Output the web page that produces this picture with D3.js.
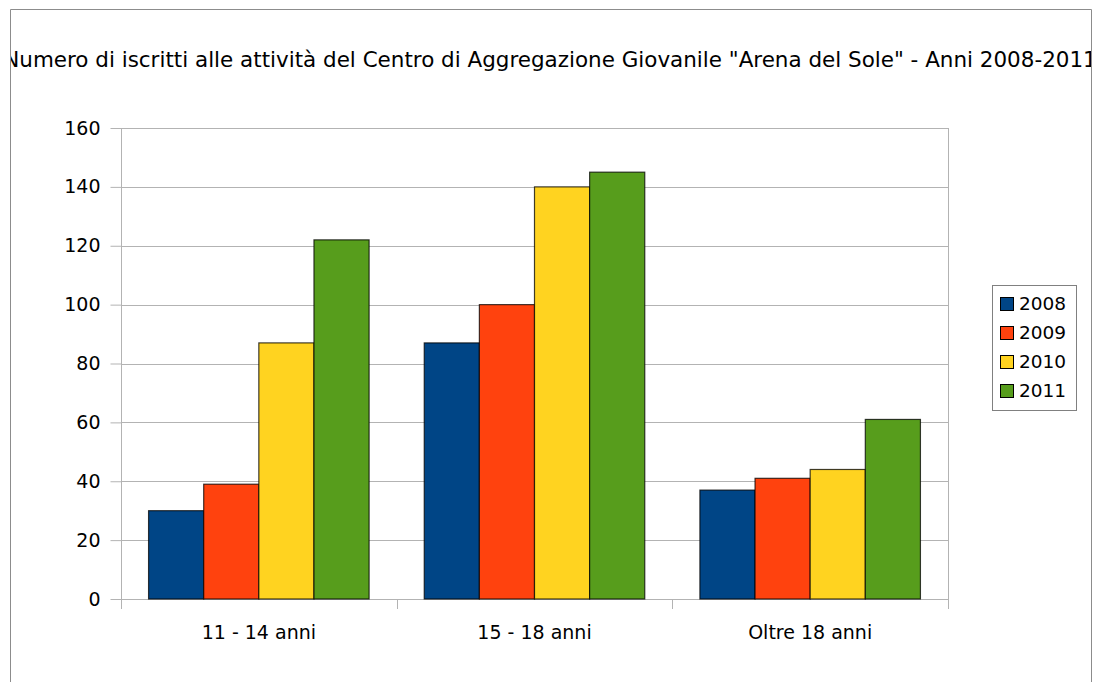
<!DOCTYPE html>
<html><head><meta charset="utf-8">
<script src="https://cdn.jsdelivr.net/npm/d3@7"></script>
<style>html,body{margin:0;padding:0;background:#fff;}svg{display:block;}</style>
</head><body>
<svg id="chart" width="1095" height="682"></svg>
<script>
const categories = ["11 - 14 anni", "15 - 18 anni", "Oltre 18 anni"];
const seriesNames = ["2008", "2009", "2010", "2011"];
const values2008 = [30, 87, 37];
const values2009 = [39, 100, 41];
const values2010 = [87, 140, 44];
const values2011 = [122, 145, 61];
const seriesColors = ["#004586", "#ff420e", "#ffd320", "#579d1c"];
const yTicks = [0, 20, 40, 60, 80, 100, 120, 140, 160];
const titleText = "Numero di iscritti alle attività del Centro di Aggregazione Giovanile \"Arena del Sole\" - Anni 2008-2011";

const allValues = [values2008, values2009, values2010, values2011];
const font = "'DejaVu Sans', Verdana, sans-serif";

const svg = d3.select("#chart");
const frame = {x0: 10, y0: 9, x1: 1091, y1: 700};
const plot = {x0: 121, x1: 948, y0: 128, y1: 599};

svg.append("defs").append("clipPath").attr("id", "fclip")
  .append("rect").attr("x", frame.x0 + 1).attr("y", frame.y0)
  .attr("width", frame.x1 - frame.x0 - 1).attr("height", frame.y1 - frame.y0);

// frame
svg.append("path")
  .attr("d", `M${frame.x0 + 0.5},${682} V${frame.y0 + 0.5} H${frame.x1 + 0.5} V${682}`)
  .attr("fill", "none").attr("stroke", "#8c8c8c").attr("stroke-width", 1);

// title
const title = svg.append("g").attr("clip-path", "url(#fclip)")
  .append("text").attr("x", 550).attr("y", 67)
  .attr("text-anchor", "middle")
  .attr("font-family", font).attr("font-size", 20).attr("fill", "#000")
  .text(titleText);
// fit the title to the span measured on the reference (about x=3 to x=1097)
const tw = title.node().getComputedTextLength();
title.attr("font-size", 20 * 1094 / tw);

const x0 = d3.scaleBand().domain(categories).range([plot.x0, plot.x1]).padding(0);
const x1 = d3.scaleBand().domain(seriesNames)
  .range([x0.bandwidth() * 0.1, x0.bandwidth() * 0.9]).padding(0);
const y = d3.scaleLinear().domain([0, 160]).range([plot.y1, plot.y0]);

const grid = "#b3b3b3";

// gridlines
svg.append("g").selectAll("line").data(yTicks).join("line")
  .attr("x1", plot.x0).attr("x2", plot.x1)
  .attr("y1", d => Math.round(y(d)) + 0.5).attr("y2", d => Math.round(y(d)) + 0.5)
  .attr("stroke", grid).attr("stroke-width", 1);

// right border of plot area
svg.append("line")
  .attr("x1", plot.x1 + 0.5).attr("x2", plot.x1 + 0.5)
  .attr("y1", plot.y0).attr("y2", plot.y1)
  .attr("stroke", grid);

// y axis
const yAxis = d3.axisLeft(y).tickValues(yTicks).tickSize(11).tickPadding(10);
const gy = svg.append("g").attr("transform", `translate(${plot.x0 + 0.5},0)`).call(yAxis);
gy.select(".domain").remove();
gy.selectAll(".tick line").attr("stroke", grid);
gy.selectAll(".tick text").attr("font-family", font).attr("font-size", 19).attr("fill", "#000");
svg.append("line").attr("x1", plot.x0 + 0.5).attr("x2", plot.x0 + 0.5)
  .attr("y1", plot.y0).attr("y2", plot.y1 + 10).attr("stroke", grid);

// x axis
const xAxis = d3.axisBottom(x0).tickSize(0).tickPadding(26);
const gx = svg.append("g").attr("transform", `translate(0,${plot.y1 + 0.5})`).call(xAxis);
gx.select(".domain").attr("stroke", grid).attr("d", `M${plot.x0},0H${plot.x1}`);
gx.selectAll(".tick text").attr("font-family", font).attr("font-size", 19).attr("fill", "#000");
const boundaries = categories.map(c => x0(c)).concat([x0(categories[categories.length - 1]) + x0.bandwidth()]);
svg.append("g").selectAll("line").data(boundaries).join("line")
  .attr("x1", d => Math.round(d) + 0.5).attr("x2", d => Math.round(d) + 0.5)
  .attr("y1", plot.y1).attr("y2", plot.y1 + 10).attr("stroke", grid);

// bars
const groups = svg.append("g").selectAll("g").data(categories).join("g")
  .attr("transform", c => `translate(${x0(c)},0)`);
groups.selectAll("rect")
  .data((c, i) => seriesNames.map((s, j) => ({s, j, v: allValues[j][i]})))
  .join("rect")
  .attr("x", d => x1(d.s))
  .attr("y", d => y(d.v))
  .attr("width", x1.bandwidth())
  .attr("height", d => y(0) - y(d.v))
  .attr("fill", d => seriesColors[d.j])
  .attr("stroke", "#000").attr("stroke-opacity", 0.75).attr("stroke-width", 1.2);

// legend
const lg = svg.append("g");
lg.append("rect").attr("x", 992.5).attr("y", 285.5).attr("width", 84).attr("height", 125)
  .attr("fill", "#fff").attr("stroke", "#808080").attr("stroke-width", 1);
const items = lg.selectAll("g").data(seriesNames).join("g")
  .attr("transform", (d, i) => `translate(0,${304 + i * 29})`);
items.append("rect").attr("x", 1000.5).attr("y", -6.5).attr("width", 13).attr("height", 13)
  .attr("fill", (d, i) => seriesColors[i]).attr("stroke", "#000").attr("stroke-width", 1);
items.append("text").attr("x", 1019).attr("y", 0).attr("dy", "0.35em")
  .attr("font-family", font).attr("font-size", 18.5).attr("fill", "#000")
  .text(d => d);
</script>
</body></html>
